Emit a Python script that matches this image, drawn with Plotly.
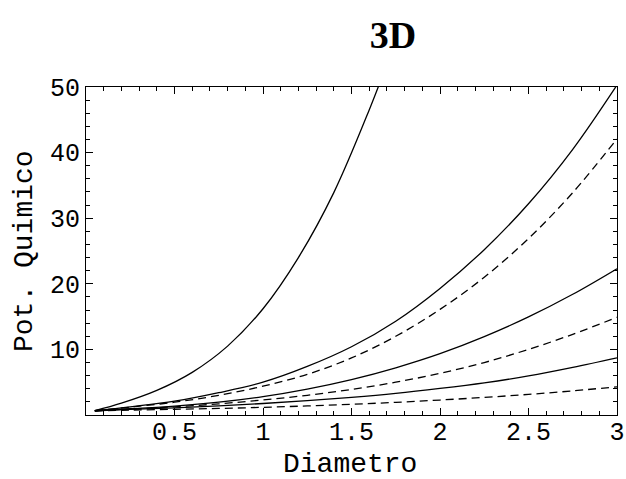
import plotly.graph_objects as go

# Diameter grid (x) for the six lower curves
x_grid = [0.05, 0.25, 0.5, 0.75, 1.0, 1.25, 1.5, 1.75, 2.0, 2.25, 2.5, 2.75, 3.0]

# Steepest solid curve (leaves the frame near x = 1.65)
x_steep = [0.05, 0.2, 0.4, 0.6, 0.8, 1.0, 1.2, 1.4, 1.6, 1.7]
y_steep = [0.66, 1.8, 3.75, 6.5, 10.5, 16.2, 24.0, 33.9, 46.5, 53.5]

# Remaining curves, paired solid / dashed
y_solid_a = [0.65, 1.25, 2.1, 3.4, 5.0, 7.4, 10.4, 14.3, 19.3, 25.2, 32.2, 40.5, 50.3]
y_dash_a  = [0.65, 1.2, 1.95, 3.0, 4.4, 6.2, 8.7, 12.0, 16.1, 21.0, 26.9, 33.9, 42.1]
y_solid_b = [0.65, 0.95, 1.35, 1.95, 2.8, 3.95, 5.4, 7.2, 9.35, 11.95, 14.95, 18.4, 22.3]
y_dash_b  = [0.65, 0.9, 1.25, 1.7, 2.3, 3.0, 3.9, 5.0, 6.35, 8.0, 10.0, 12.3, 14.9]
y_solid_c = [0.65, 0.85, 1.1, 1.4, 1.75, 2.2, 2.7, 3.3, 4.05, 4.9, 5.95, 7.25, 8.7]
y_dash_c  = [0.65, 0.75, 0.87, 1.0, 1.17, 1.38, 1.63, 1.93, 2.28, 2.68, 3.14, 3.68, 4.3]

x_ticks = [0.5, 1, 1.5, 2, 2.5, 3]
x_tick_text = ["0.5", "1", "1.5", "2", "2.5", "3"]
y_ticks = [10, 20, 30, 40, 50]
y_tick_text = ["10", "20", "30", "40", "50"]

fig = go.Figure()

def add(xs, ys, dashed):
    fig.add_trace(go.Scatter(
        x=xs, y=ys, mode="lines", line_shape="spline",
        line=dict(color="black", width=1.3, dash="8px,5px" if dashed else "solid"),
        showlegend=False, hoverinfo="skip"))

add(x_steep, y_steep, False)
add(x_grid, y_solid_a, False)
add(x_grid, y_dash_a, True)
add(x_grid, y_solid_b, False)
add(x_grid, y_dash_b, True)
add(x_grid, y_solid_c, False)
add(x_grid, y_dash_c, True)

axis_common = dict(
    showgrid=False, zeroline=False, showline=True, linecolor="black", linewidth=1,
    mirror="allticks", ticks="inside", ticklen=7, tickwidth=1, tickcolor="black",
    automargin=False,
    tickfont=dict(family="Liberation Mono", size=25, color="black"),
)

W, H = 626, 479
fig.update_layout(
    width=W, height=H,
    margin=dict(l=86, r=9, t=87, b=64, autoexpand=False),
    paper_bgcolor="white", plot_bgcolor="white",
    title=dict(text="<b>3D</b>", x=393/W, xanchor="center", y=1 - 35/H, yanchor="middle",
               font=dict(family="Liberation Serif", size=38, color="black")),
    xaxis=dict(range=[0, 3], tickvals=x_ticks, ticktext=x_tick_text, ticklabelstandoff=-6,
               minor=dict(ticks="inside", dtick=0.1, ticklen=4, tickcolor="black", showgrid=False),
               **axis_common),
    yaxis=dict(range=[0, 50], tickvals=y_ticks, ticktext=y_tick_text,
               minor=dict(ticks="inside", dtick=2, ticklen=4, tickcolor="black", showgrid=False),
               **axis_common),
    annotations=[
        dict(text="Diametro", xref="paper", yref="paper", x=(350-86)/531, y=-(464-415)/328,
             xanchor="center", yanchor="middle", showarrow=False,
             font=dict(family="Liberation Mono", size=28, color="black")),
        dict(text="Pot. Quimico", xref="paper", yref="paper", x=-(86-24)/531, y=(415-251)/328,
             xanchor="center", yanchor="middle", showarrow=False, textangle=-90,
             font=dict(family="Liberation Mono", size=28, color="black")),
    ],
)

fig.write_html("out.html")
